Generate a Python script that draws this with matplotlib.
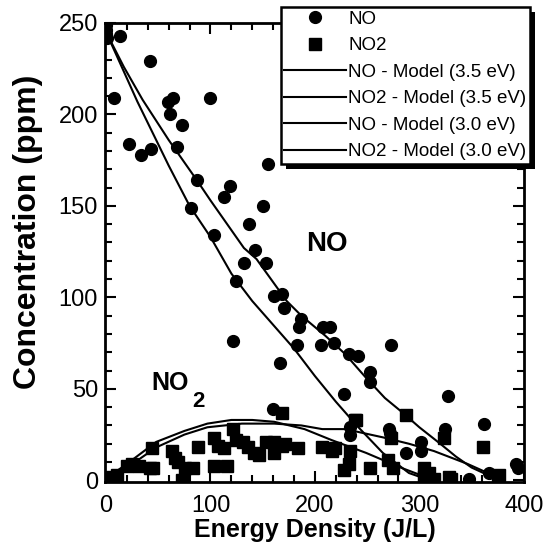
import matplotlib
matplotlib.use('Agg')
import matplotlib.pyplot as plt
from matplotlib.patches import Rectangle
from matplotlib.ticker import MultipleLocator

plt.rcParams['font.family'] = ['Liberation Sans', 'DejaVu Sans']

# measured points (energy density J/L, concentration ppm)
no_x = [0, 0, 0, 1, 13, 42, 8, 64, 59, 61, 100, 73, 22, 33, 43, 68, 155, 87, 119, 113,
        81, 150, 137, 103, 143, 153, 132, 124, 161, 168, 170, 187, 185, 208, 214, 122,
        183, 206, 218, 273, 233, 241, 167, 253, 253, 228, 327, 362, 160, 271, 272, 325,
        302, 302, 287, 234, 234, 348, 367, 394, 393]
no_y = [249, 246, 244, 242, 243, 229, 209, 209, 207, 200, 209, 194, 184, 178, 181, 182,
        173, 164, 161, 155, 149, 150, 140, 134, 126, 119, 119, 109, 101, 102, 94, 88, 84,
        84, 84, 76, 74, 74, 75, 74, 69, 68, 64, 59, 54, 47, 46, 31, 39, 28, 26, 28, 21,
        16, 15, 29, 25, 1, 4, 7, 9]

no2_x = [0, 0, 3, 8, 10, 20, 25, 32, 44, 45, 42, 63, 66, 69, 76, 83, 73, 88, 103, 107,
         103, 116, 122, 113, 124, 131, 136, 142, 146, 153, 161, 168, 161, 184, 168, 207,
         216, 219, 171, 234, 239, 233, 228, 253, 270, 275, 273, 287, 324, 361, 304, 309,
         314, 304, 328, 375, 376, 330, 238]
no2_y = [0, 1, 1.6, 0, 3, 8, 9, 8, 17.5, 6.5, 7, 16, 12, 10, 7, 6.5, 0, 18, 23, 19, 8, 8,
         28, 17.5, 22, 21, 18, 15, 14, 21, 21, 19, 15, 17.5, 37, 18, 16, 17.5, 20, 16, 33,
         9, 5.5, 7, 11, 6.5, 23, 35.5, 23, 18, 7, 4, 1, 2, 1.6, 1.6, 3, 1, 33]

# model curves
no_35_x = [0, 15, 30, 60, 80, 100, 120, 140, 160, 180, 200, 220, 240, 265, 290, 310]
no_35_y = [245, 226, 207, 172, 150, 133, 113, 98, 85, 72, 57, 43, 30, 15, 4, 0]
no2_35_x = [0, 10, 20, 48, 75, 97, 120, 140, 161, 190, 216, 249, 282, 307, 312]
no2_35_y = [0, 5, 9, 21, 27, 31, 33, 33, 32, 28, 22, 15, 7, 1.6, 0]
no_30_x = [0, 17, 35, 60, 87, 100, 132, 144, 173, 187, 210, 229, 249, 267, 284, 300,
           320, 335, 350, 369, 378]
no_30_y = [245, 226, 208, 186, 164, 153, 127, 121, 98, 90, 79, 69, 56, 45, 37, 29, 20,
           13, 7, 2, 0]
no2_30_x = [0, 10, 19, 48, 75, 97, 130, 161, 187, 207, 229, 265, 290, 314, 346, 375, 380]
no2_30_y = [0, 3, 6.5, 18, 25, 29, 31, 31, 30, 28, 28, 23.5, 20, 16, 9, 1.6, 0]

fig = plt.figure(figsize=(5.51, 5.60), dpi=100)
ax = fig.add_axes([0.1906, 0.139, 0.760, 0.820])
ax.patch.set_visible(False)

ax.plot(no_x, no_y, 'o', color='k', ms=8.5, label='NO')
ax.plot(no2_x, no2_y, 's', color='k', ms=8.5, label='NO2')
ax.plot(no_35_x, no_35_y, '-', color='k', lw=1.5, label='NO - Model (3.5 eV)')
ax.plot(no2_35_x, no2_35_y, '-', color='k', lw=1.5, label='NO2 - Model (3.5 eV)')
ax.plot(no_30_x, no_30_y, '-', color='k', lw=1.5, label='NO - Model (3.0 eV)')
ax.plot(no2_30_x, no2_30_y, '-', color='k', lw=1.5, label='NO2 - Model (3.0 eV)')

ax.set_xlim(-1, 400)
ax.set_ylim(-1, 250)
ax.xaxis.set_major_locator(MultipleLocator(100))
ax.xaxis.set_minor_locator(MultipleLocator(20))
ax.yaxis.set_major_locator(MultipleLocator(50))
ax.yaxis.set_minor_locator(MultipleLocator(10))
ax.tick_params(which='both', direction='in', top=True, right=True, width=1.5,
               labelsize=17)
ax.tick_params(which='major', length=8)
ax.tick_params(axis='x', which='major', pad=9)
ax.tick_params(axis='y', which='major', pad=5)
ax.tick_params(which='minor', length=5)
for s in ax.spines.values():
    s.set_linewidth(2)

ax.set_xlabel('Energy Density (J/L)', fontsize=18, fontweight='bold', labelpad=1)
ax.set_ylabel('Concentration (ppm)', fontsize=23, fontweight='bold')
ax.yaxis.set_label_coords(-0.148, 0.545)

ax.text(211, 129, 'NO', fontsize=20, fontweight='bold', ha='center', va='center')
ax.text(61, 53, 'NO', fontsize=18, fontweight='bold', ha='center', va='center')
ax.text(88, 43, '2', fontsize=16, fontweight='bold', ha='center', va='center')

leg = ax.legend(loc='upper right', bbox_to_anchor=(0.962, 0.9875),
                bbox_transform=fig.transFigure, fontsize=13.5, handlelength=3.3,
                handletextpad=0.1, borderpad=0.2, labelspacing=0.5,
                borderaxespad=0, fancybox=False, framealpha=1)
leg.get_frame().set_edgecolor('k')
leg.get_frame().set_linewidth(1.8)

# solid black drop shadow behind the legend box (figure level, under the axes)
fig.canvas.draw()
bb = leg.get_window_extent().transformed(fig.transFigure.inverted())
dx, dy = 5 / 551, 5 / 560
fig.patches.append(Rectangle((bb.x0 + dx, bb.y0 - dy), bb.width, bb.height,
                             transform=fig.transFigure, figure=fig,
                             facecolor='k', edgecolor='none', zorder=-1))

fig.savefig('out.png', dpi=100)
